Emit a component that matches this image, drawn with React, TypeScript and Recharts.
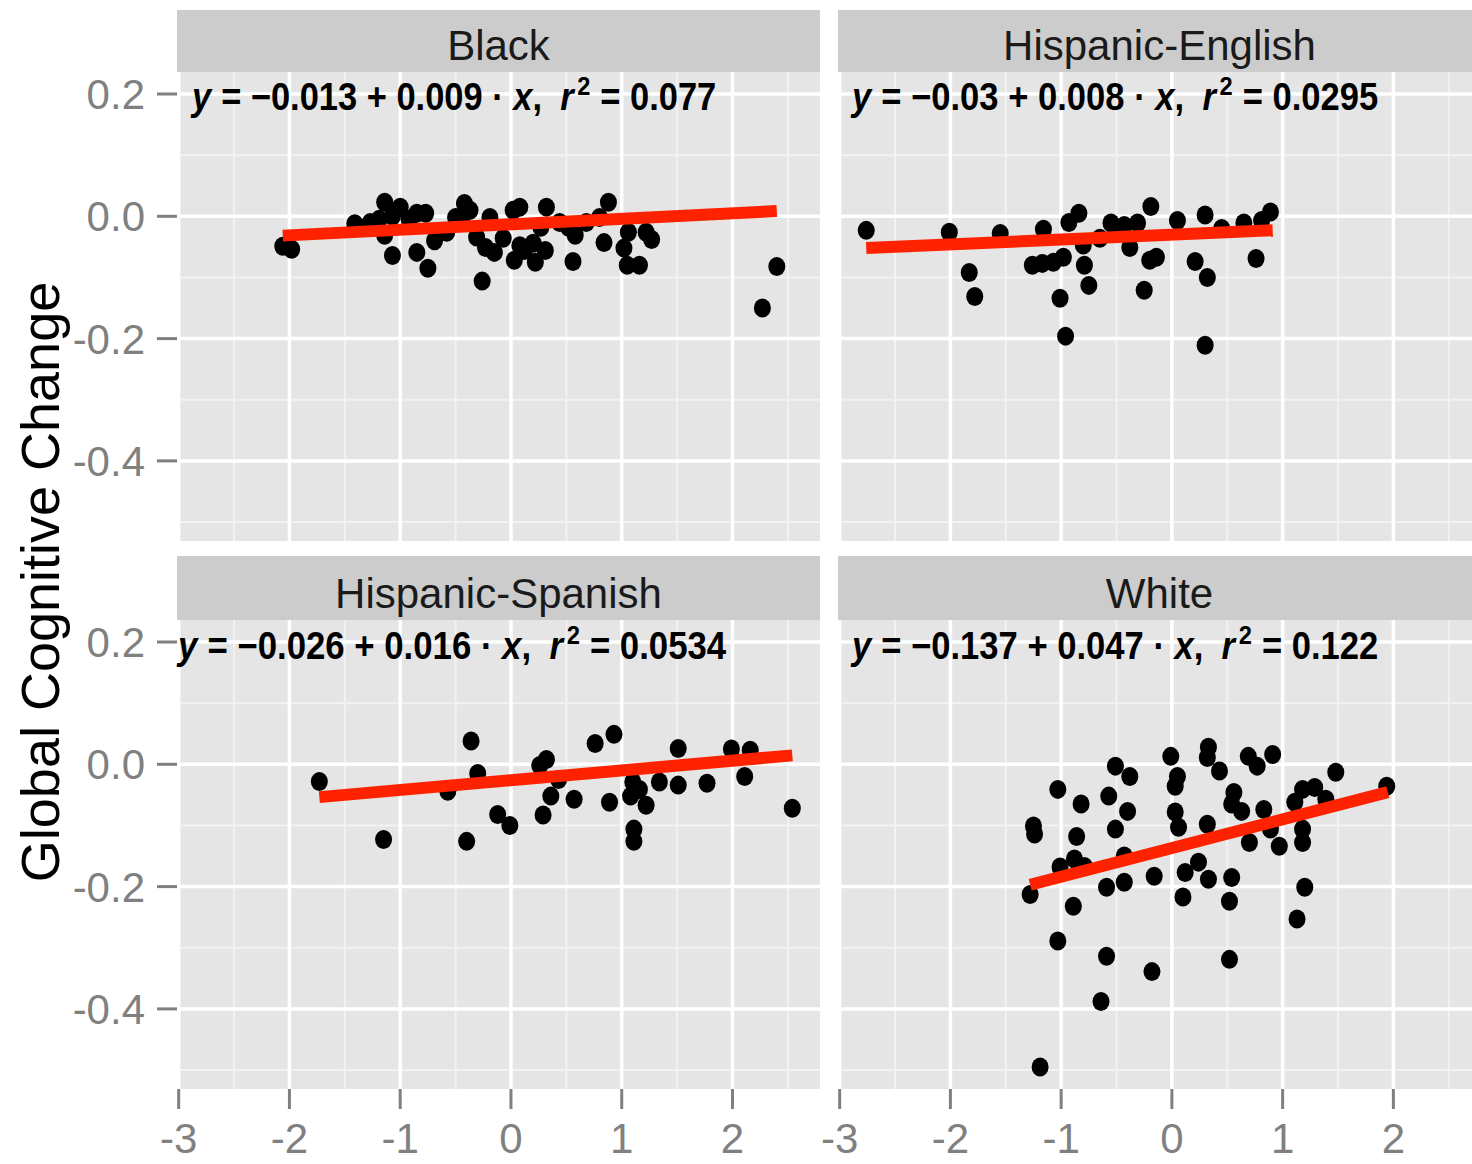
import React, { useLayoutEffect, useRef, useState } from 'react';
import { ScatterChart, Scatter, XAxis, YAxis, CartesianGrid } from 'recharts';

type P = { x: number; y: number };

const panelTitles = ['Black', 'Hispanic-English', 'Hispanic-Spanish', 'White'];
const eqIntercept = ['-0.013', '-0.03', '-0.026', '-0.137'];
const eqSlope = ['0.009', '0.008', '0.016', '0.047'];
const eqR2 = ['0.077', '0.0295', '0.0534', '0.122'];

const xTicks = [-3, -2, -1, 0, 1, 2];
const xTickLabels = ['-3', '-2', '-1', '0', '1', '2'];
const yTicks = [0.2, 0, -0.2, -0.4];
const yTickLabels = ['0.2', '0.0', '-0.2', '-0.4'];
const xMinor = [-2.5, -1.5, -0.5, 0.5, 1.5, 2.5];
const yMinor = [0.1, -0.1, -0.3, -0.5];

const blackPoints: P[] = [
  { x: -2.06, y: -0.049 }, { x: -1.98, y: -0.054 }, { x: -1.14, y: 0.023 }, { x: -1.0, y: 0.015 },
  { x: -0.85, y: 0.005 }, { x: -1.27, y: -0.01 }, { x: -1.19, y: -0.005 }, { x: -1.07, y: 0.0 },
  { x: -0.92, y: -0.005 }, { x: -0.77, y: 0.005 }, { x: -1.14, y: -0.031 }, { x: -1.07, y: -0.064 },
  { x: -0.85, y: -0.059 }, { x: -0.75, y: -0.085 }, { x: -0.58, y: -0.026 }, { x: -0.42, y: 0.021 },
  { x: -0.42, y: 0.005 }, { x: -0.5, y: -0.002 }, { x: -0.31, y: -0.034 }, { x: -0.23, y: -0.051 },
  { x: -0.15, y: -0.059 }, { x: -0.26, y: -0.106 }, { x: -0.19, y: -0.002 }, { x: 0.08, y: 0.015 },
  { x: 0.02, y: 0.01 }, { x: 0.32, y: 0.015 }, { x: 0.12, y: -0.056 }, { x: 0.03, y: -0.072 },
  { x: 0.22, y: -0.075 }, { x: 0.31, y: -0.056 }, { x: 0.2, y: -0.044 }, { x: 0.58, y: -0.031 },
  { x: 0.52, y: -0.018 }, { x: 0.56, y: -0.074 }, { x: 0.88, y: 0.023 }, { x: 0.8, y: -0.002 },
  { x: 0.84, y: -0.043 }, { x: 1.02, y: -0.052 }, { x: 1.06, y: -0.026 }, { x: 1.16, y: -0.08 },
  { x: 1.05, y: -0.08 }, { x: 1.22, y: -0.026 }, { x: 1.27, y: -0.038 }, { x: 2.27, y: -0.15 },
  { x: 2.4, y: -0.082 }, { x: -0.07, y: -0.036 }, { x: 0.27, y: -0.018 }, { x: 0.44, y: -0.01 },
  { x: -0.69, y: -0.04 }, { x: -1.41, y: -0.012 }, { x: -0.37, y: 0.01 }, { x: 0.68, y: -0.01 },
  { x: 0.08, y: -0.048 },
];

const hispEngPoints: P[] = [
  { x: -2.76, y: -0.023 }, { x: -2.01, y: -0.026 }, { x: -1.55, y: -0.028 }, { x: -1.16, y: -0.021 },
  { x: -1.83, y: -0.092 }, { x: -1.78, y: -0.131 }, { x: -1.26, y: -0.08 }, { x: -1.17, y: -0.077 },
  { x: -1.07, y: -0.075 }, { x: -0.98, y: -0.067 }, { x: -0.93, y: -0.01 }, { x: -0.84, y: 0.005 },
  { x: -1.01, y: -0.134 }, { x: -0.96, y: -0.196 }, { x: -0.8, y: -0.047 }, { x: -0.79, y: -0.08 },
  { x: -0.75, y: -0.113 }, { x: -0.55, y: -0.011 }, { x: -0.43, y: -0.015 }, { x: -0.31, y: -0.011 },
  { x: -0.38, y: -0.051 }, { x: -0.19, y: 0.016 }, { x: -0.2, y: -0.072 }, { x: -0.14, y: -0.067 },
  { x: -0.25, y: -0.121 }, { x: 0.05, y: -0.007 }, { x: 0.3, y: 0.002 }, { x: 0.45, y: -0.02 },
  { x: 0.21, y: -0.074 }, { x: 0.32, y: -0.1 }, { x: 0.3, y: -0.211 }, { x: 0.65, y: -0.011 },
  { x: 0.76, y: -0.069 }, { x: 0.89, y: 0.007 }, { x: 0.81, y: -0.007 }, { x: -0.51, y: -0.026 },
  { x: -0.65, y: -0.036 },
];

const hispSpaPoints: P[] = [
  { x: -1.73, y: -0.028 }, { x: -1.15, y: -0.123 }, { x: -0.36, y: 0.038 }, { x: -0.3, y: -0.015 },
  { x: -0.57, y: -0.044 }, { x: -0.4, y: -0.126 }, { x: -0.12, y: -0.082 }, { x: -0.01, y: -0.1 },
  { x: 0.29, y: -0.083 }, { x: 0.32, y: 0.008 }, { x: 0.26, y: -0.002 }, { x: 0.36, y: -0.052 },
  { x: 0.43, y: -0.025 }, { x: 0.57, y: -0.057 }, { x: 0.76, y: 0.034 }, { x: 0.93, y: 0.049 },
  { x: 0.89, y: -0.062 }, { x: 1.1, y: -0.029 }, { x: 1.08, y: -0.052 }, { x: 1.22, y: -0.067 },
  { x: 1.11, y: -0.106 }, { x: 1.11, y: -0.126 }, { x: 1.34, y: -0.029 }, { x: 1.51, y: -0.034 },
  { x: 1.51, y: 0.026 }, { x: 1.77, y: -0.031 }, { x: 1.99, y: 0.025 }, { x: 2.16, y: 0.023 },
  { x: 2.11, y: -0.02 }, { x: 2.54, y: -0.072 }, { x: 1.16, y: -0.041 },
];

const whitePoints: P[] = [
  { x: -0.01, y: 0.013 }, { x: 0.33, y: 0.028 }, { x: 0.32, y: 0.011 }, { x: 0.43, y: -0.011 },
  { x: 0.69, y: 0.013 }, { x: 0.77, y: -0.003 }, { x: 0.91, y: 0.016 }, { x: -0.51, y: -0.003 },
  { x: -0.38, y: -0.02 }, { x: -1.03, y: -0.041 }, { x: -0.82, y: -0.065 }, { x: -0.57, y: -0.052 },
  { x: -0.4, y: -0.077 }, { x: 0.05, y: -0.02 }, { x: 0.03, y: -0.036 }, { x: 1.48, y: -0.013 },
  { x: 1.94, y: -0.036 }, { x: 1.18, y: -0.041 }, { x: 1.29, y: -0.038 }, { x: 1.11, y: -0.062 },
  { x: 1.39, y: -0.057 }, { x: 0.56, y: -0.046 }, { x: 0.54, y: -0.065 }, { x: 0.63, y: -0.077 },
  { x: 0.83, y: -0.074 }, { x: -1.25, y: -0.101 }, { x: -0.86, y: -0.118 }, { x: -0.51, y: -0.106 },
  { x: 0.03, y: -0.078 }, { x: 0.06, y: -0.103 }, { x: 0.32, y: -0.098 }, { x: 0.7, y: -0.128 },
  { x: 0.89, y: -0.106 }, { x: 0.97, y: -0.134 }, { x: 1.18, y: -0.106 }, { x: 1.18, y: -0.128 },
  { x: -1.01, y: -0.168 }, { x: -0.88, y: -0.155 }, { x: -0.79, y: -0.167 }, { x: -0.43, y: -0.15 },
  { x: -0.59, y: -0.201 }, { x: -0.43, y: -0.193 }, { x: -0.16, y: -0.183 }, { x: 0.12, y: -0.177 },
  { x: 0.24, y: -0.16 }, { x: 0.33, y: -0.188 }, { x: 0.54, y: -0.185 }, { x: 0.52, y: -0.224 },
  { x: -1.28, y: -0.213 }, { x: -0.89, y: -0.232 }, { x: 0.1, y: -0.217 }, { x: 1.2, y: -0.201 },
  { x: 1.13, y: -0.253 }, { x: -1.03, y: -0.289 }, { x: -0.59, y: -0.314 }, { x: 0.52, y: -0.319 },
  { x: -0.18, y: -0.339 }, { x: -0.64, y: -0.388 }, { x: -1.19, y: -0.495 }, { x: -1.24, y: -0.114 },
];

const blackFit: P[] = [{ x: -2.06, y: -0.0316 }, { x: 2.4, y: 0.0086 }];
const hispEngFit: P[] = [{ x: -2.76, y: -0.052 }, { x: 0.91, y: -0.0227 }];
const hispSpaFit: P[] = [{ x: -1.73, y: -0.0537 }, { x: 2.54, y: 0.0146 }];
const whiteFit: P[] = [{ x: -1.28, y: -0.197 }, { x: 1.95, y: -0.0454 }];

const FONT = '"Liberation Sans", Arial, Helvetica, sans-serif';

const Dot = (props: any) => (
  <ellipse cx={props.cx} cy={props.cy} rx={8.5} ry={9.5} fill="#000000" />
);
const NoDot = () => <g />;

const YTick = (props: any) => {
  const { x, y, payload } = props;
  const i = yTicks.indexOf(payload.value);
  return (
    <text x={x} y={y} dy="0.36em" textAnchor="end" fill="#808080" fontSize={42} fontFamily={FONT}>
      {yTickLabels[i]}
    </text>
  );
};

const XTick = (props: any) => {
  const { x, y, payload } = props;
  const i = xTicks.indexOf(payload.value);
  return (
    <text x={x} y={y} dy="0.71em" textAnchor="middle" fill="#808080" fontSize={42} fontFamily={FONT}>
      {xTickLabels[i]}
    </text>
  );
};

type PanelProps = {
  left: number; top: number; width: number; height: number; padLeft: number;
  showX: boolean; showY: boolean; data: P[]; fit: P[]; xMax: number;
};

function Panel({ left, top, width, height, padLeft, showX, showY, data, fit, xMax }: PanelProps) {
  return (
    <div style={{ position: 'absolute', left, top }}>
      <ScatterChart width={width} height={height} margin={{ top: 0, right: 0, bottom: 0, left: padLeft }}>
        <CartesianGrid fill="#e5e5e5" stroke="#f2f2f2" strokeWidth={2} horizontalValues={yMinor} verticalValues={xMinor} />
        <CartesianGrid stroke="#ffffff" strokeWidth={3.5} horizontalValues={yTicks} verticalValues={xTicks} />
        <XAxis
          type="number" dataKey="x" domain={[-3.015, xMax]} ticks={xTicks} allowDataOverflow
          hide={!showX} height={75} axisLine={false} tickSize={20} tickMargin={14}
          tickLine={{ stroke: '#808080', strokeWidth: 3 }} tick={<XTick />} interval={0}
        />
        <YAxis
          type="number" dataKey="y" domain={[-0.531, 0.236]} ticks={yTicks} allowDataOverflow
          hide={!showY} width={177} axisLine={false} tickSize={20} tickMargin={12}
          tickLine={{ stroke: '#808080', strokeWidth: 3 }} tick={<YTick />} interval={0}
        />
        <Scatter data={data} shape={Dot} isAnimationActive={false} />
        <Scatter data={fit} shape={NoDot} line={{ stroke: '#ff2200', strokeWidth: 12 }} isAnimationActive={false} />
      </ScatterChart>
    </div>
  );
}

function Equation({ x, y, len, i }: { x: number; y: number; len: number; i: number }) {
  const ref = useRef<SVGTextElement>(null);
  const [sx, setSx] = useState(0.9);
  useLayoutEffect(() => {
    if (ref.current) {
      const w = ref.current.getBBox().width;
      if (w > 0) setSx(len / w);
    }
  }, [len]);
  return (
    <g transform={`translate(${x},${y}) scale(${sx},1)`}>
      <text ref={ref} x={0} y={0} fontSize={38} fontWeight="bold" fontFamily={FONT} fill="#000">
        <tspan fontStyle="italic">y</tspan>
        <tspan dx={11}>{'= ' + eqIntercept[i].replace('-', '\u2212') + ' + ' + eqSlope[i] + ' \u00b7 '}</tspan>
        <tspan fontStyle="italic">x</tspan>
        <tspan>,</tspan>
        <tspan dx={20} fontStyle="italic">r</tspan>
        <tspan dx={4} dy={-15} fontSize={26}>2</tspan>
        <tspan dx={11} dy={15}>{'= ' + eqR2[i]}</tspan>
      </text>
    </g>
  );
}

export default function App() {
  return (
    <div style={{ position: 'absolute', left: 0, top: 0, width: 1472, height: 1164, background: '#fff', overflow: 'hidden' }}>
      <Panel left={0} top={72} width={820} height={469} padLeft={0} showX={false} showY={true} data={blackPoints} fit={blackFit} xMax={2.79} />
      <Panel left={800} top={72} width={672} height={469} padLeft={38} showX={false} showY={false} data={hispEngPoints} fit={hispEngFit} xMax={2.71} />
      <Panel left={0} top={620} width={820} height={544} padLeft={0} showX={true} showY={true} data={hispSpaPoints} fit={hispSpaFit} xMax={2.79} />
      <Panel left={800} top={620} width={672} height={544} padLeft={38} showX={true} showY={false} data={whitePoints} fit={whiteFit} xMax={2.71} />
      <svg width={1472} height={1164} style={{ position: 'absolute', left: 0, top: 0, pointerEvents: 'none' }}>
        <rect x={177} y={10} width={643} height={62} fill="#cccccc" />
        <rect x={838} y={10} width={634} height={62} fill="#cccccc" />
        <rect x={177} y={556} width={643} height={64} fill="#cccccc" />
        <rect x={838} y={556} width={634} height={64} fill="#cccccc" />
        <text x={498.5} y={60} textAnchor="middle" fontSize={42} fontFamily={FONT} fill="#1a1a1a">{panelTitles[0]}</text>
        <text x={1159.5} y={60} textAnchor="middle" fontSize={42} fontFamily={FONT} fill="#1a1a1a">{panelTitles[1]}</text>
        <text x={498.5} y={608} textAnchor="middle" fontSize={42} fontFamily={FONT} fill="#1a1a1a">{panelTitles[2]}</text>
        <text x={1159.5} y={608} textAnchor="middle" fontSize={42} fontFamily={FONT} fill="#1a1a1a">{panelTitles[3]}</text>
        <Equation x={192} y={110} len={526} i={0} />
        <Equation x={852} y={110} len={528} i={1} />
        <Equation x={178} y={659} len={550} i={2} />
        <Equation x={852} y={659} len={528} i={3} />
        <text x={40} y={582} transform="rotate(-90, 40, 582)" textAnchor="middle" dy="0.36em"
          fontSize={54} fontFamily={FONT} fill="#000">Global Cognitive Change</text>
      </svg>
    </div>
  );
}
